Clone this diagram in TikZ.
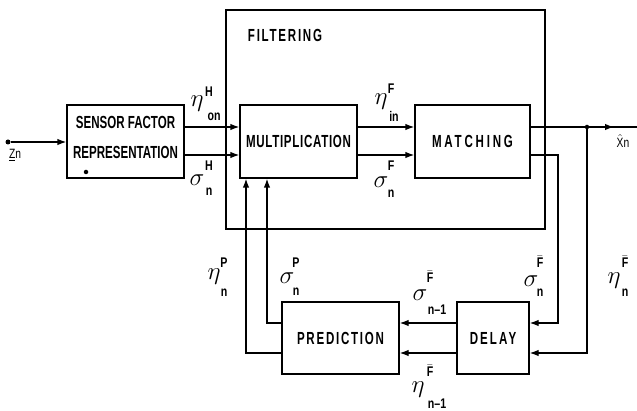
\documentclass[tikz,border=0pt]{standalone}
\usepackage{fontspec}
\usetikzlibrary{arrows.meta,calc}
\newfontfamily\lt[FakeStretch=0.66]{Liberation Sans}
\newfontfamily\lts[FakeStretch=0.76]{Liberation Sans}
\newcommand\boxfont{\fontsize{17.5}{17.5}\selectfont\lt\bfseries}
\newcommand\lspc[1]{\addfontfeature{LetterSpace=#1}}
\newcommand\Fbar{$\bar{\mbox{F}}$}
\tikzset{
  box/.style={draw, line width=1.3pt, inner sep=0pt, font=\boxfont},
  boxtext/.style={inner sep=0pt, font=\boxfont},
  line/.style={line width=1.3pt},
  arr/.style={line width=1.3pt, -{Latex[length=9pt,width=6.5pt]}},
  greek/.style={inner sep=0pt, font=\fontsize{23}{23}\selectfont},
  scr/.style={inner sep=0pt, font=\fontsize{14}{14}\selectfont\lts\bfseries},
  io/.style={inner sep=0pt, font=\fontsize{13.5}{13.5}\selectfont\lts},
  dot/.style={circle, fill, inner sep=0pt, minimum size=5pt},
}
\begin{document}
\begin{tikzpicture}[x=1pt,y=-1pt]
\useasboundingbox (0,0) rectangle (637,411);
% level coordinates
\coordinate (yA) at (0,127);
\coordinate (yB) at (0,155);
\coordinate (yC) at (0,323);
\coordinate (yD) at (0,353);
\coordinate (fbx) at (558,0);
\coordinate (px1) at (267,0);
\coordinate (px2) at (246,0);
% boxes
\node[box, line width=1.6pt, minimum width=319pt, minimum height=219pt] (filt) at (385.5,119.5) {};
\node[boxtext] (filttxt) at (285,35) {\lspc{10}FILTERING};
\node[box, minimum width=117pt, minimum height=73pt] (sensor) at (125.5,141.5) {};
\node[boxtext] (sens1) at (125.5,122) {SENSOR FACTOR};
\node[boxtext] (sens2) at (125.5,152) {REPRESENTATION};
\node[dot, minimum size=4.5pt] (sdot) at (86,172) {};
\node[box, minimum width=117pt, minimum height=73pt] (mult) at (298.5,141.5) {\lspc{4}MULTIPLICATION};
\node[box, minimum width=115pt, minimum height=73pt] (match) at (472.5,141.5) {\lspc{16}MATCHING};
\node[box, minimum width=117pt, minimum height=72pt] (pred) at (340.5,338) {\lspc{10}PREDICTION};
\node[box, minimum width=72pt, minimum height=72pt] (delay) at (493,338) {\lspc{12}DELAY};
% input
\node[dot] (zin) at (8,142) {};
\node[io] (zlab) at (15,155) {\underline{Z}n};
\draw[arr] (zin) -- (sensor.west |- zin);
% sensor -> multiplication
\draw[arr] (sensor.east |- yA) -- (mult.west |- yA);
\draw[arr] (sensor.east |- yB) -- (mult.west |- yB);
% multiplication -> matching
\draw[arr] (mult.east |- yA) -- (match.west |- yA);
\draw[arr] (mult.east |- yB) -- (match.west |- yB);
% output
\coordinate (outend) at (637,127);
\coordinate (outtip) at (614,127);
\node[dot, minimum size=4.5pt] (jn) at (587,127) {};
\draw[line] (match.east |- yA) -- (outend);
\draw[arr] (jn) -- (outtip);
\node[io] (xlab) at (623,141) {$\hat{\mbox{X}}$n};
% feedback to delay
\draw[arr] (match.east |- yB) -| (fbx |- yC) -- (delay.east |- yC);
\draw[arr] (jn) -- (jn |- yD) -- (delay.east |- yD);
% delay -> prediction
\draw[arr] (delay.west |- yC) -- (pred.east |- yC);
\draw[arr] (delay.west |- yD) -- (pred.east |- yD);
% prediction -> multiplication
\draw[arr] (pred.west |- yC) -| (px1 |- mult.south);
\draw[arr] (pred.west |- yD) -| (px2 |- mult.south);
% labels
\node[greek] (l1g) at (197,104) {$\eta$};
\node[scr] (l1p) at (209,92) {H};
\node[scr] (l1b) at (214,117) {on};
\node[greek] (l2g) at (197,180) {$\sigma$};
\node[scr] (l2p) at (209,166) {H};
\node[scr] (l2b) at (209,192) {n};
\node[greek] (l3g) at (381,102) {$\eta$};
\node[scr] (l3p) at (391,89) {F};
\node[scr] (l3b) at (394,116) {in};
\node[greek] (l4g) at (381,182) {$\sigma$};
\node[scr] (l4p) at (391,166) {F};
\node[scr] (l4b) at (391,194) {n};
\node[greek] (l5g) at (214,277) {$\eta$};
\node[scr] (l5p) at (224,263) {P};
\node[scr] (l5b) at (224,293) {n};
\node[greek] (l6g) at (287,278) {$\sigma$};
\node[scr] (l6p) at (296,263) {P};
\node[scr] (l6b) at (296,292) {n};
\node[greek] (l7g) at (531,281) {$\sigma$};
\node[scr] (l7p) at (540,262) {\Fbar};
\node[scr] (l7b) at (540,293) {n};
\node[greek] (l8g) at (614,281) {$\eta$};
\node[scr] (l8p) at (625,262) {\Fbar};
\node[scr] (l8b) at (625,293) {n};
\node[greek] (l9g) at (420,295) {$\sigma$};
\node[scr] (l9p) at (430,277) {\Fbar};
\node[scr] (l9b) at (437,310) {n\textendash1};
\node[greek] (l10g) at (418,390) {$\eta$};
\node[scr] (l10p) at (430,371) {\Fbar};
\node[scr] (l10b) at (437,404) {n\textendash1};
\end{tikzpicture}
\end{document}
